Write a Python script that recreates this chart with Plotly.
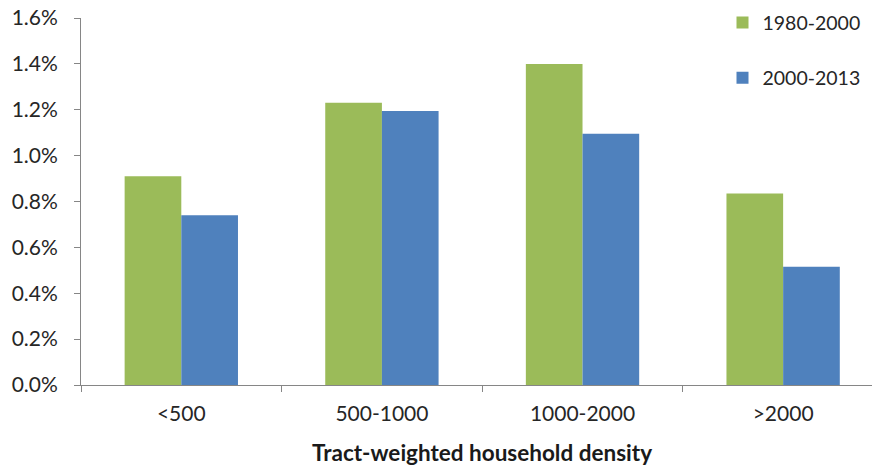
import plotly.graph_objects as go

categories = ["<500", "500-1000", "1000-2000", ">2000"]
growth_1980_2000 = [0.91, 1.23, 1.40, 0.835]
growth_2000_2013 = [0.74, 1.195, 1.095, 0.515]
y_ticks = [0.0, 0.2, 0.4, 0.6, 0.8, 1.0, 1.2, 1.4, 1.6]
y_tick_labels = [f"{v:.1f}%" for v in y_ticks]

FONT = "Lato, 'Open Sans', sans-serif"
TEXT = "#262626"
AXIS = "#868686"

fig = go.Figure()
fig.add_trace(go.Bar(
    x=categories, y=growth_1980_2000, name="1980-2000",
    marker=dict(color="#9BBB59", line=dict(width=0)),
    legendgroup="a",
))
fig.add_trace(go.Bar(
    x=categories, y=growth_2000_2013, name="2000-2013",
    marker=dict(color="#4F81BD", line=dict(width=0)),
    legendgroup="b",
))

fig.update_layout(
    width=872, height=466,
    margin=dict(l=81, r=0, t=18, b=81),
    paper_bgcolor="white", plot_bgcolor="white",
    barmode="group", bargap=0.435, bargroupgap=0,
    font=dict(family=FONT, size=20, color=TEXT),
    showlegend=True,
    legend=dict(
        x=0.811, y=1.04, xanchor="left", yanchor="top",
        traceorder="grouped", tracegroupgap=27,
        font=dict(family=FONT, size=19.5, color=TEXT),
        bgcolor="rgba(0,0,0,0)", itemwidth=30,
    ),
    xaxis=dict(
        type="category", range=[-0.5, 3.443],
        showline=True, linecolor=AXIS, linewidth=1,
        ticks="outside", tickson="boundaries", ticklen=6, tickcolor=AXIS,
        showgrid=False, zeroline=False, ticklabelstandoff=10,
        tickfont=dict(family=FONT, size=21, color=TEXT),
    ),
    yaxis=dict(
        range=[0, 1.6], tickvals=y_ticks, ticktext=y_tick_labels,
        showline=True, linecolor=AXIS, linewidth=1,
        ticks="outside", ticklen=6, tickcolor=AXIS,
        showgrid=False, zeroline=False, ticklabelstandoff=12,
        tickfont=dict(family=FONT, size=21, color=TEXT),
    ),
    annotations=[dict(
        text="<b>Tract-weighted household density</b>",
        x=0.507, y=-0.183, xref="paper", yref="paper",
        xanchor="center", yanchor="middle", showarrow=False,
        font=dict(family=FONT, size=22.5, color="#1a1a1a"),
    )],
)

fig.write_html("out.html")
